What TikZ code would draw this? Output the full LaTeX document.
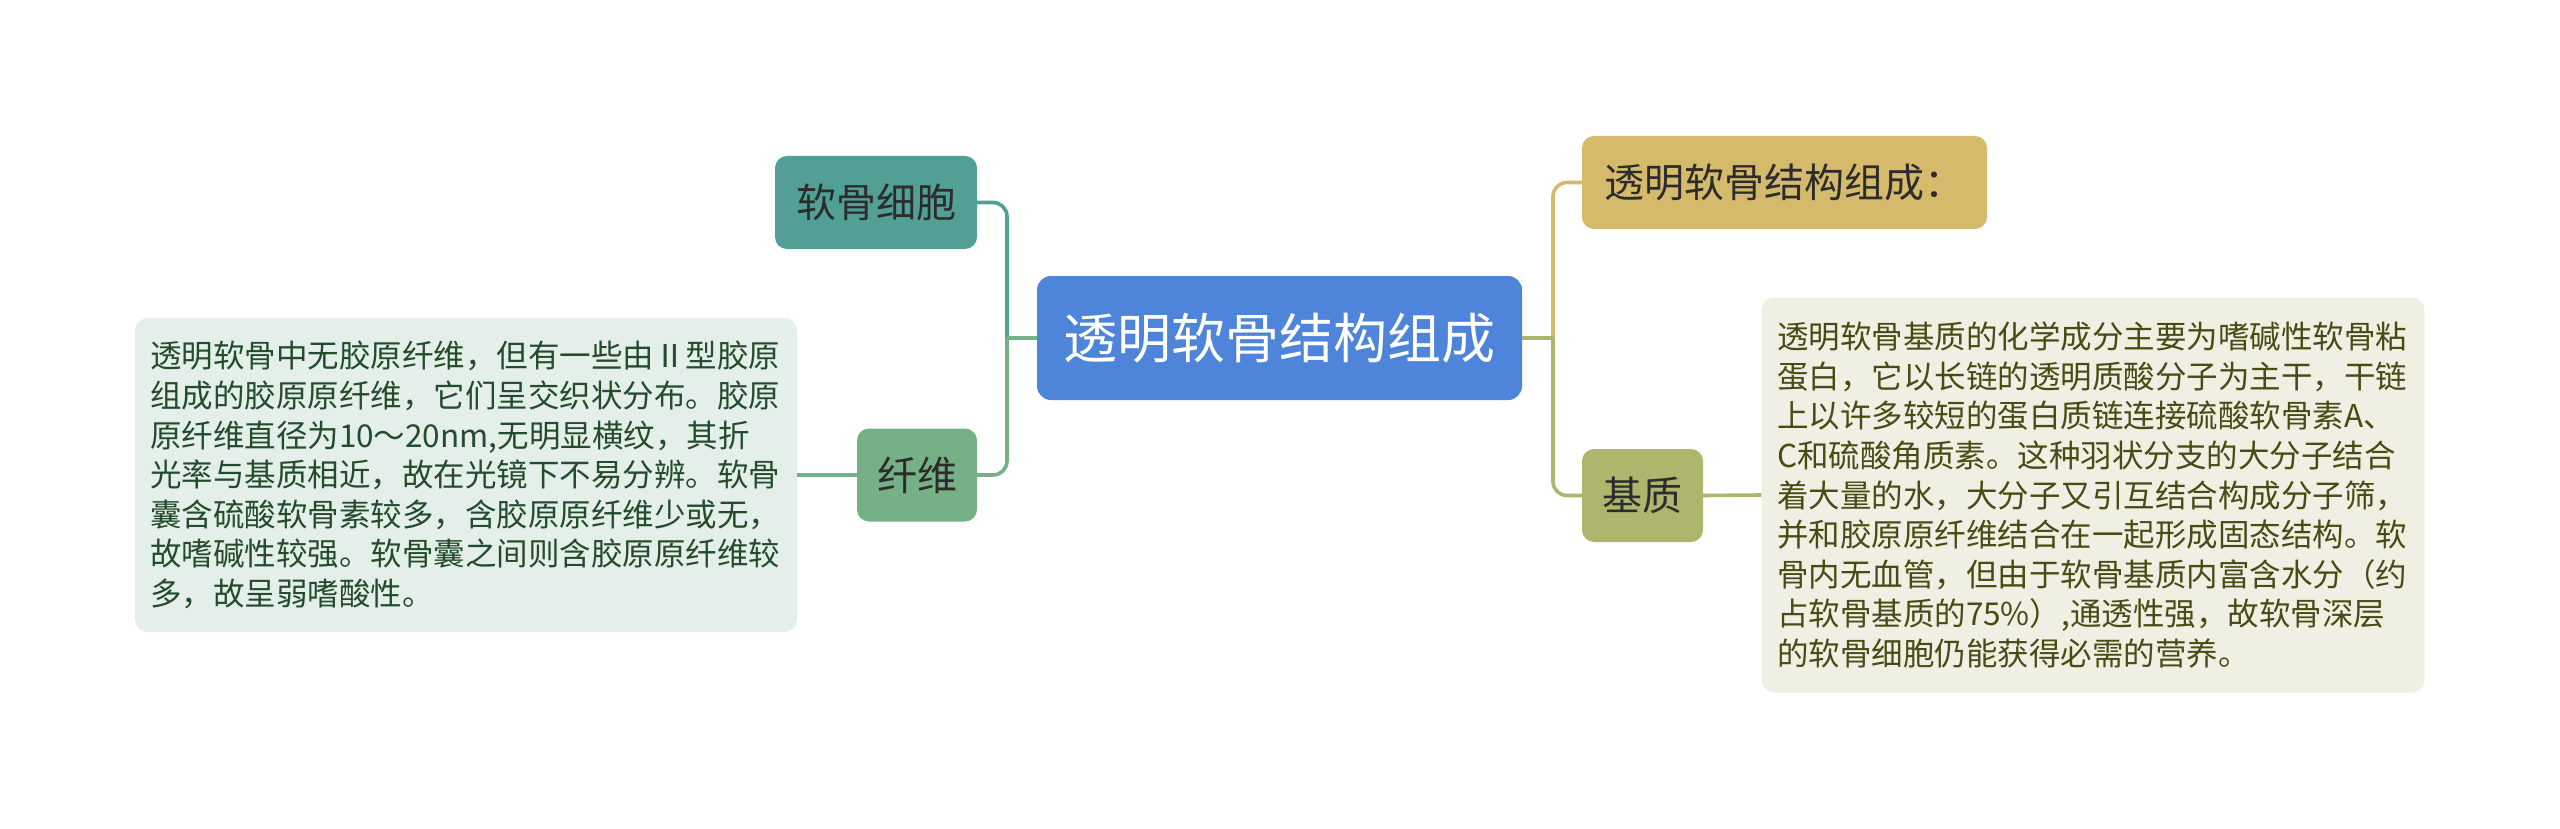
\documentclass[tikz,border=0pt]{standalone}
\usepackage{fontspec}
\newfontfamily\cjk{Noto Sans CJK SC}
\definecolor{cBlue}{HTML}{4E85DA}
\definecolor{cTeal}{HTML}{529F96}
\definecolor{cGreen}{HTML}{76B087}
\definecolor{cGold}{HTML}{D4BA6A}
\definecolor{cOlive}{HTML}{ADB66C}
\definecolor{cLBox}{HTML}{E5EFE9}
\definecolor{cRBox}{HTML}{EFEFE3}
\definecolor{cLText}{HTML}{234C2C}
\definecolor{cRText}{HTML}{4A4A14}
\definecolor{cDark}{HTML}{2C2C2C}
\tikzset{
  topic/.style={rounded corners=12pt, inner sep=0pt, text=cDark,
    font=\cjk\fontsize{40}{48}\selectfont},
  rootnode/.style={rounded corners=14pt, inner sep=0pt, text=white, fill=cBlue,
    font=\cjk\fontsize{54}{62}\selectfont},
  textbox/.style={rounded corners=13pt, inner sep=0pt, align=left,
    font=\cjk\fontsize{31.5}{39.6}\selectfont},
  link/.style={line width=3.6pt, rounded corners=14pt}
}
\begin{document}
\begin{tikzpicture}[x=1pt,y=-1pt]
\useasboundingbox (0,0) rectangle (2560,829);
\fill[white] (0,0) rectangle (2560,829);

\node[rootnode, minimum width=485pt, minimum height=124pt] (root) at (1279.5,338) {透明软骨结构组成};

\node[topic, fill=cTeal, minimum width=202pt, minimum height=93pt] (cell) at (876,202.5) {软骨细胞};
\node[topic, fill=cGreen, minimum width=120pt, minimum height=93pt] (fib) at (917,475) {纤维};
\node[topic, fill=cGold, minimum width=405pt, minimum height=93pt] (gold) at (1784.5,182.5) {透明软骨结构组成：};
\node[topic, fill=cOlive, minimum width=121pt, minimum height=93pt] (mat) at (1642.5,495.5) {基质};

\node[textbox, fill=cLBox, text=cLText, minimum width=662pt, minimum height=314pt, text width=632pt] (ltext) at (466,475) {透明软骨中无胶原纤维，但有一些由Ⅱ型胶原\\组成的胶原原纤维，它们呈交织状分布。胶原\\原纤维直径为10～20nm,无明显横纹，其折\\光率与基质相近，故在光镜下不易分辨。软骨\\囊含硫酸软骨素较多，含胶原原纤维少或无，\\故嗜碱性较强。软骨囊之间则含胶原原纤维较\\多，故呈弱嗜酸性。};

\node[textbox, fill=cRBox, text=cRText, minimum width=663pt, minimum height=395pt, text width=632pt] (rtext) at (2093,495) {透明软骨基质的化学成分主要为嗜碱性软骨粘\\蛋白，它以长链的透明质酸分子为主干，干链\\上以许多较短的蛋白质链连接硫酸软骨素A、\\C和硫酸角质素。这种羽状分支的大分子结合\\着大量的水，大分子又引互结合构成分子筛，\\并和胶原原纤维结合在一起形成固态结构。软\\骨内无血管，但由于软骨基质内富含水分（约\\占软骨基质的75\%）,通透性强，故软骨深层\\的软骨细胞仍能获得必需的营养。};

\coordinate (jl) at (1007,338);
\coordinate (jr) at (1553,338);

% left branches
\draw[link, cTeal] (jl) |- (cell.east);
\draw[link, cGreen] (jl) |- (fib.east);
\draw[line width=3.6pt, cGreen] (root.west) -- (jl);
\draw[line width=3.6pt, cGreen] (fib.west) -- (ltext.east);

% right branches
\draw[link, cGold] (jr) |- (gold.west);
\draw[link, cOlive] (jr) |- (mat.west);
\draw[line width=3.6pt, cOlive] (root.east) -- (jr);
\draw[line width=3.6pt, cOlive] (mat.east) -- (rtext.west);
\end{tikzpicture}
\end{document}
